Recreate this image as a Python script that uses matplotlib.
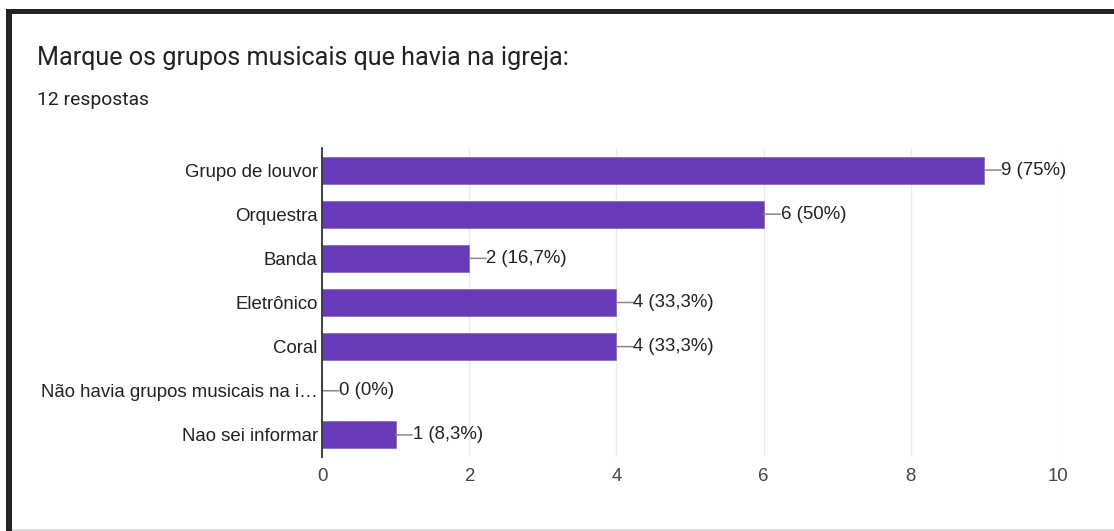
import matplotlib
matplotlib.use("Agg")
import matplotlib.pyplot as plt
from matplotlib.patches import Rectangle

categories = ["Grupo de louvor", "Orquestra", "Banda", "Eletrônico", "Coral",
              "Não havia grupos musicais na i…", "Nao sei informar"]
counts = [9, 6, 2, 4, 4, 0, 1]
labels = ["9 (75%)", "6 (50%)", "2 (16,7%)", "4 (33,3%)", "4 (33,3%)", "0 (0%)", "1 (8,3%)"]
xticks = [0, 2, 4, 6, 8, 10]
title = "Marque os grupos musicais que havia na igreja:"
subtitle = "12 respostas"

W, H = 1114, 531
fig = plt.figure(figsize=(W / 100, H / 100), dpi=100)
fig.patch.set_facecolor("white")

# screenshot frame
fig.add_artist(Rectangle((6 / W, 1 - 14 / H), 1 - 6 / W, 5 / H, transform=fig.transFigure,
                         facecolor="#232323", edgecolor="none"))
fig.add_artist(Rectangle((6 / W, 0), 6 / W, 1 - 9 / H, transform=fig.transFigure,
                         facecolor="#232323", edgecolor="none"))
fig.add_artist(Rectangle((12 / W, 0), 1 - 12 / W, 2 / H, transform=fig.transFigure,
                         facecolor="#dcdcdc", edgecolor="none"))

fig.text(37 / W, 1 - 58 / H, title, family="Roboto", fontsize=18.05, color="#202124",
         va="center", ha="left")
fig.text(37 / W, 1 - 100 / H, subtitle, family="Roboto", fontsize=13.9, color="#202124",
         va="center", ha="left")

lab_font = dict(family="Liberation Sans", fontsize=13.4)

ax = fig.add_axes([322 / W, 1 - 457 / H, (1058 - 322) / W, (457 - 148) / H])
ypos = list(range(len(categories)))
ax.barh(ypos, counts, height=0.61, color="#673AB7", edgecolor="#8c6ad0", linewidth=0.6, zorder=3)
ax.set_ylim(len(categories) - 0.5, -0.5)
ax.set_xlim(0, 10)
ax.set_xticks(xticks)
ax.set_xticklabels([str(t) for t in xticks], color="#444444", **lab_font)
ax.set_yticks(ypos)
ax.set_yticklabels(categories, color="#222222", **lab_font)
ax.tick_params(axis="both", length=0)
ax.tick_params(axis="y", pad=3)
ax.tick_params(axis="x", pad=8)
ax.grid(axis="x", color="#ebebeb", linewidth=1, zorder=0)
for s in ["top", "right", "bottom"]:
    ax.spines[s].set_visible(False)
ax.spines["left"].set_color("#333333")
ax.spines["left"].set_linewidth(1.3)
ax.spines["left"].set_zorder(4)

for y, v, lab in zip(ypos, counts, labels):
    ax.annotate(lab, xy=(v, y), xytext=(12.2, 0), textcoords="offset points",
                va="center", ha="left", color="#222222",
                bbox=dict(boxstyle="square,pad=0", facecolor="none", edgecolor="none"),
                arrowprops=dict(arrowstyle="-", color="#8a8a8a", lw=1.1, shrinkA=0, shrinkB=0,
                                relpos=(0, 0.5)),
                annotation_clip=False, **lab_font)

fig.savefig("out.png", dpi=100, facecolor="white")
